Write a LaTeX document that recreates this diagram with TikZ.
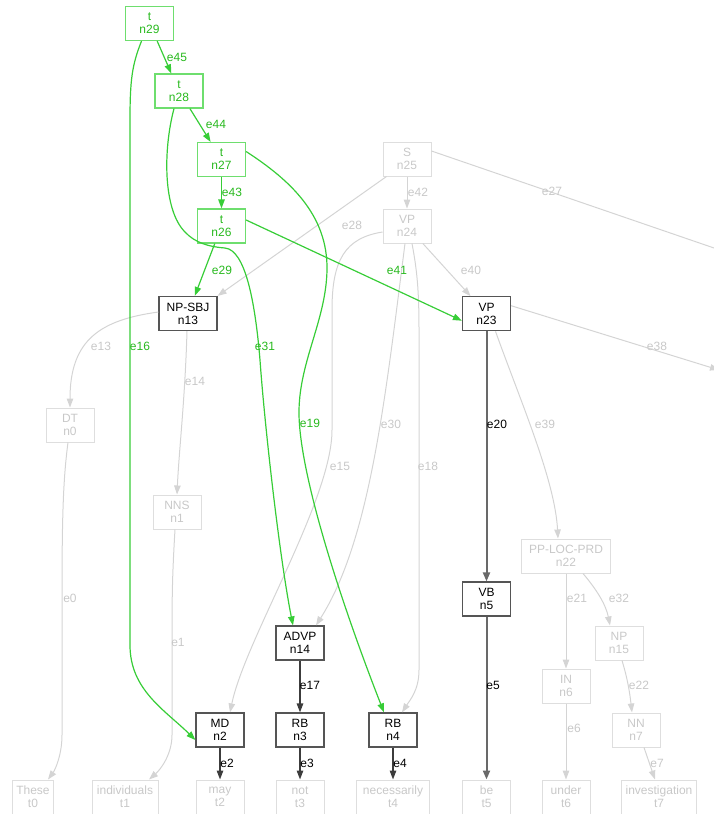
\documentclass[tikz,border=0pt]{standalone}
\usepackage{fontspec}
\setmainfont{Liberation Sans}
\usetikzlibrary{arrows.meta}
\definecolor{gboxc}{RGB}{110,222,110}
\definecolor{gline}{RGB}{55,205,55}
\definecolor{gtext}{RGB}{40,185,30}
\definecolor{lboxc}{RGB}{222,222,222}
\definecolor{lline}{RGB}{212,212,212}
\definecolor{ltext}{RGB}{200,200,200}
\definecolor{kboxc}{RGB}{85,85,85}
\definecolor{kline}{RGB}{60,60,60}
\definecolor{tline}{RGB}{105,105,105}
\tikzset{
  box/.style={draw, rectangle, minimum width=48pt, minimum height=34pt, inner sep=2pt, align=center, font=\fontsize{12}{12.8}\selectfont, line width=1.2pt},
  gbox/.style={box, draw=gboxc, text=gtext},
  kbox/.style={box, draw=kboxc, text=black},
  lbox/.style={box, draw=lboxc, text=ltext, line width=1pt},
  lbl/.style={inner sep=0pt, font=\fontsize{12}{13}\selectfont},
  glbl/.style={lbl, text=gtext},
  klbl/.style={lbl, text=black},
  llbl/.style={lbl, text=ltext},
  gedge/.style={draw=gline, line width=1.2pt, -{Triangle[length=9pt,width=6.5pt]}},
  kedge/.style={draw=kline, line width=1.3pt, -{Triangle[length=9pt,width=6.5pt]}},
  tedge/.style={draw=tline, line width=2pt, -{Triangle[length=9pt,width=7pt]}},
  ledge/.style={draw=lline, line width=1pt, -{Triangle[length=9pt,width=6.5pt]}},
  lplain/.style={draw=lline, line width=1pt},
}
\begin{document}
\begin{tikzpicture}[x=1pt,y=-1pt]
\useasboundingbox (0,0) rectangle (714,814);
% green nodes
\node[gbox] (n29) at (149.5,23.5) {t\\n29};
\node[gbox] (n28) at (179,91) {t\\n28};
\node[gbox] (n27) at (221.5,159.5) {t\\n27};
\node[gbox] (n26) at (221.5,226) {t\\n26};
% light nodes
\node[lbox] (n25) at (407,159) {S\\n25};
\node[lbox] (n24) at (407,226) {VP\\n24};
\node[lbox] (n0) at (70,425) {DT\\n0};
\node[lbox] (n1) at (177,512) {NNS\\n1};
\node[lbox, minimum width=89pt] (n22) at (566,556) {PP-LOC-PRD\\n22};
\node[lbox] (n15) at (619,643) {NP\\n15};
\node[lbox] (n6) at (566,686) {IN\\n6};
\node[lbox] (n7) at (636,730) {NN\\n7};
% black nodes
\node[kbox, minimum width=58pt] (n13) at (188,313.5) {NP-SBJ\\n13};
\node[kbox] (n23) at (486.5,313.7) {VP\\n23};
\node[kbox] (n5) at (486.5,599) {VB\\n5};
\node[kbox] (n14) at (300,643) {ADVP\\n14};
\node[kbox] (n2) at (220,730) {MD\\n2};
\node[kbox] (n3) at (300,730) {RB\\n3};
\node[kbox] (n4) at (393,730) {RB\\n4};
% tokens
\node[lbox, minimum width=41pt] (t0) at (33,797) {These\\t0};
\node[lbox, minimum width=66pt] (t1) at (125,797) {individuals\\t1};
\node[lbox] (t2) at (220,797) {may\\t2};
\node[lbox] (t3) at (300,797) {not\\t3};
\node[lbox, minimum width=73pt] (t4) at (393,797) {necessarily\\t4};
\node[lbox] (t5) at (486.5,797) {be\\t5};
\node[lbox] (t6) at (566,797) {under\\t6};
\node[lbox, minimum width=75pt] (t7) at (659,797) {investigation\\t7};
% off-picture ends
\coordinate (r27) at (714,248);
\coordinate (r38) at (719,370);

% light edges
\draw[ledge] ([xshift=4pt]n25.south west) -- (n13.north east);
\draw[ledge] (n25) -- (n24);
\draw[lplain] ([yshift=8pt]n25.east) -- (r27);
\draw[ledge] (n24) -- (n23);
\draw[ledge] ([yshift=-6pt]n24.west) .. controls (345,238) and (332,260) .. (332,310) -- (332,430) .. controls (332,500) and (245,640) .. ([xshift=10pt]n2.north);
\draw[ledge] ([xshift=-2pt]n24.south) .. controls (385,400) and (370,540) .. ([xshift=16pt]n14.north);
\draw[ledge] ([xshift=5pt]n24.south) .. controls (417,270) and (419,290) .. (419,330) -- (419,670) .. controls (419,690) and (410,700) .. ([xshift=9pt]n4.north);
\draw[ledge] ([yshift=1.5pt]n13.west) .. controls (100,320) and (70,340) .. (n0.north);
\draw[ledge] ([xshift=-1pt]n13.south) .. controls (185,400) and (179,450) .. (n1.north);
\draw[ledge] ([xshift=-2pt]n0.south) .. controls (63,480) and (62,520) .. (62,600) -- (62,735) .. controls (62,755) and (55,770) .. ([xshift=15pt]t0.north);
\draw[ledge] ([xshift=-2pt]n1.south) .. controls (172,580) and (172,600) .. (172,650) -- (172,735) .. controls (172,755) and (160,770) .. ([xshift=24pt]t1.north);
\draw[ledge] ([xshift=9pt]n23.south) .. controls (520,400) and (555,480) .. ([xshift=-8pt]n22.north);
\draw[ledge] ([yshift=8pt]n23.east) -- (r38);
\draw[ledge] (n22) -- (n6);
\draw[ledge] ([xshift=17pt]n22.south) .. controls (597,590) and (606,605) .. ([xshift=-9pt]n15.north);
\draw[ledge] ([xshift=3pt]n15.south) .. controls (628,680) and (630,695) .. ([xshift=-4pt]n7.north);
\draw[ledge] (n6) -- (t6);
\draw[ledge] ([xshift=8pt]n7.south) -- ([xshift=-4pt]t7.north);

% black edges
\draw[tedge] (n23) -- (n5);
\draw[tedge] (n5) -- (t5);
\draw[kedge] (n14) -- (n3);
\draw[kedge] (n2) -- (t2);
\draw[kedge] (n3) -- (t3);
\draw[kedge] (n4) -- (t4);

% green edges
\draw[gedge] (n29) -- (n28);
\draw[gedge] (n28) -- (n27);
\draw[gedge] (n27) -- (n26);
\draw[gedge] (n26) -- (n13);
\draw[gedge] ([yshift=6pt]n26.east) -- ([yshift=-7pt]n23.west);
\draw[gedge] ([xshift=-8pt]n29.south) .. controls (132,65) and (130,80) .. (130,120) -- (130,645) .. controls (130,690) and (165,710) .. ([yshift=-10pt]n2.west);
\draw[gedge] ([xshift=-5pt]n28.south) .. controls (163,150) and (163,210) .. (185,232) .. controls (195,243) and (210,247) .. (225,248) .. controls (245,250) and (255,300) .. (260,360) .. controls (265,430) and (280,560) .. ([xshift=-7pt]n14.north);
\draw[gedge] ([yshift=8pt]n27.east) .. controls (290,180) and (328,215) .. (327,270) .. controls (326,320) and (300,360) .. (299,410) .. controls (298,470) and (340,600) .. ([xshift=-9pt]n4.north);

% labels
\node[glbl] (l45) at (177,57) {e45};
\node[glbl] (l44) at (216,124) {e44};
\node[glbl] (l43) at (232,192) {e43};
\node[glbl] (l29) at (222,270) {e29};
\node[glbl] (l41) at (397,270) {e41};
\node[glbl] (l16) at (140,346) {e16};
\node[glbl] (l31) at (265,346) {e31};
\node[glbl] (l19) at (310,423) {e19};
\node[llbl] (l28) at (352,225) {e28};
\node[llbl] (l42) at (418,192) {e42};
\node[llbl] (l27) at (552,191) {e27};
\node[llbl] (l40) at (471,270) {e40};
\node[llbl] (l38) at (657,346) {e38};
\node[llbl] (l39) at (545,424) {e39};
\node[klbl] (l20) at (497,424) {e20};
\node[klbl] (l5) at (493,685) {e5};
\node[llbl] (l30) at (391,424) {e30};
\node[llbl] (l15) at (340,466) {e15};
\node[llbl] (l18) at (428,466) {e18};
\node[llbl] (l13) at (101,346) {e13};
\node[llbl] (l14) at (195,381) {e14};
\node[llbl] (l0) at (70,598) {e0};
\node[llbl] (l1) at (178,642) {e1};
\node[klbl] (l2) at (227,763) {e2};
\node[klbl] (l3) at (307,763) {e3};
\node[klbl] (l4) at (400,763) {e4};
\node[klbl] (l17) at (310,685) {e17};
\node[llbl] (l21) at (577,598) {e21};
\node[llbl] (l32) at (619,598) {e32};
\node[llbl] (l6) at (574,728) {e6};
\node[llbl] (l22) at (639,685) {e22};
\node[llbl] (l7) at (657,763) {e7};
\end{tikzpicture}
\end{document}
